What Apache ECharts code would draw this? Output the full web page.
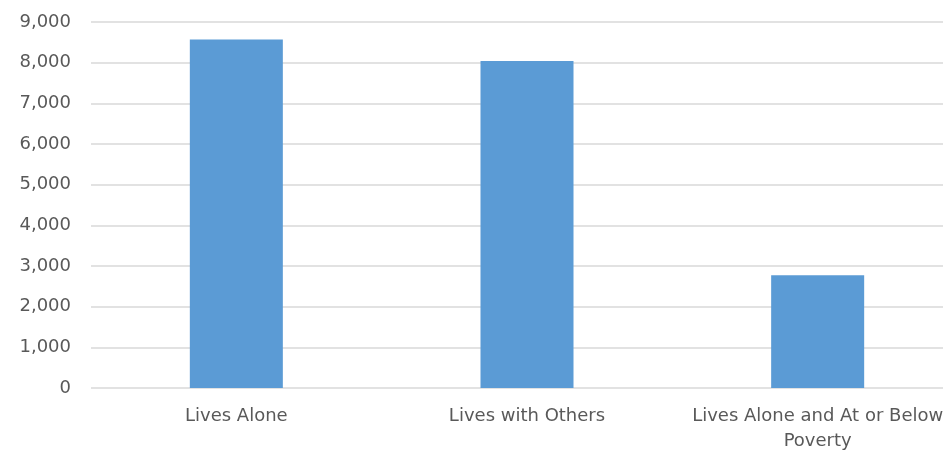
<!DOCTYPE html>
<html lang="en">
<head>
  <meta charset="UTF-8">
  <title>Living arrangements</title>
  <script src="https://cdn.jsdelivr.net/npm/echarts@6/dist/echarts.min.js"></script>
  <style>
    html, body { margin:0; padding:0; background:#fff; }
    #main { width:943px; height:453px; }
  </style>
</head>
<body>
<div id="main"></div>
<script>
    var categories = ['Lives Alone', 'Lives with Others', 'Lives Alone and At or Below\nPoverty'];
    var counts = [8570, 8040, 2770];
    var yTicks = { min: 0, max: 9000, interval: 1000 };

    var chart = echarts.init(document.querySelector('#main'));

    chart.setOption({
      animation: false,
      grid: { left: 91, top: 22, right: -20, height: 366, containLabel: false, outerBoundsMode: 'none' },
      xAxis: {
        type: 'category',
        data: categories,
        axisLine: { show: false },
        axisTick: { show: false },
        axisLabel: {
          color: '#595959',
          fontFamily: 'DejaVu Sans',
          fontSize: 18,
          lineHeight: 25,
          margin: 16,
          interval: 0
        }
      },
      yAxis: {
        type: 'value',
        min: yTicks.min,
        max: yTicks.max,
        interval: yTicks.interval,
        axisLine: { show: false },
        axisTick: { show: false },
        splitLine: { lineStyle: { color: '#d9d9d9', width: 1.5 } },
        axisLabel: {
          color: '#595959',
          fontFamily: 'DejaVu Sans',
          fontSize: 18,
          margin: 20,
          formatter: function (v) { return v.toLocaleString('en-US'); }
        }
      },
      series: [{
        type: 'bar',
        data: counts,
        barWidth: '32%',
        itemStyle: { color: '#5b9bd5' }
      }]
    });
</script>
</body>
</html>
